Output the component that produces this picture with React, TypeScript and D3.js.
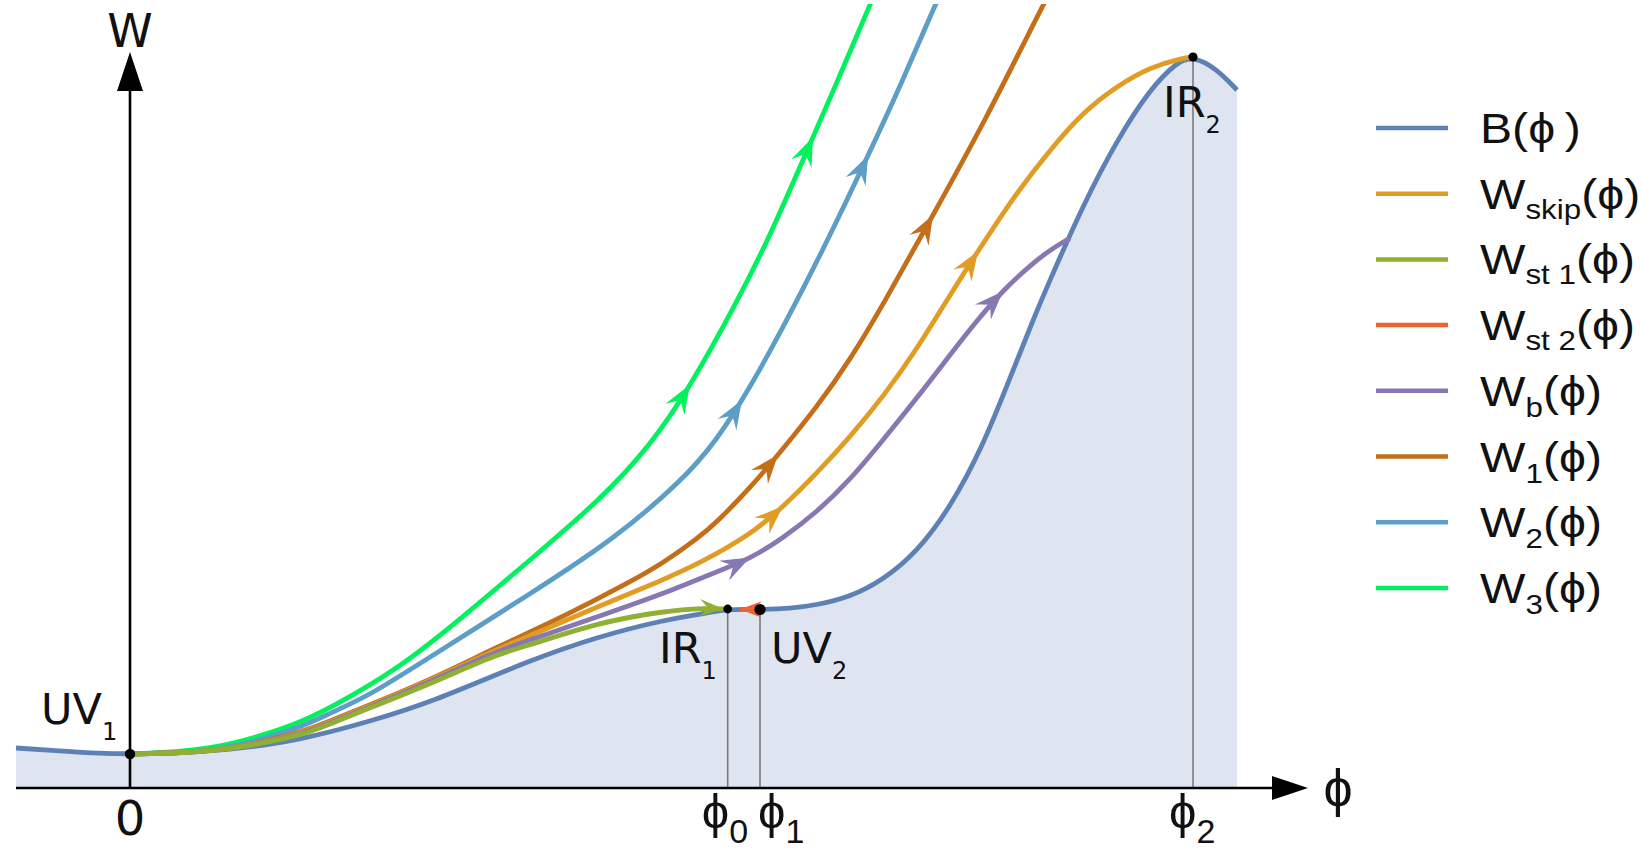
import React, { useEffect, useRef } from "react";
import * as d3 from "d3";

type Pt = [number, number];

// ---- data (φ, W) ----
const B_CURVE: Pt[] = [
  [-1.14, 0.40], [-0.70, 0.37], [-0.30, 0.345], [0, 0.34], [0.5, 0.35], [1.03, 0.39],
  [1.37, 0.43], [1.70, 0.49], [2.00, 0.56], [2.37, 0.66], [3.00, 0.85], [4.00, 1.28],
  [4.67, 1.51], [5.33, 1.68], [5.83, 1.76], [5.977, 1.785], [6.15, 1.787], [6.30, 1.785],
  [6.60, 1.795], [6.87, 1.83], [7.20, 1.91], [7.53, 2.08], [7.87, 2.36], [8.20, 2.80],
  [8.53, 3.42], [8.80, 4.10], [9.03, 4.68], [9.20, 5.08], [9.53, 5.83], [9.87, 6.48],
  [10.20, 6.99], [10.47, 7.26], [10.63, 7.32], [10.87, 7.19], [11.07, 6.98],
];
const W_SKIP: Pt[] = [
  [0, 0.34], [0.5, 0.35], [1.03, 0.39], [1.70, 0.54], [2.00, 0.66], [2.37, 0.81],
  [3.00, 1.07], [3.67, 1.39], [4.00, 1.52], [4.67, 1.81], [5.33, 2.08], [5.70, 2.25],
  [6.20, 2.53], [6.53, 2.81], [6.87, 3.15], [7.20, 3.51], [7.53, 3.91], [7.87, 4.39],
  [8.20, 4.93], [8.48, 5.37], [8.87, 5.96], [9.20, 6.38], [9.53, 6.76], [9.87, 7.02],
  [10.20, 7.21], [10.53, 7.30], [10.63, 7.31],
];
const W_ST1: Pt[] = [
  [0, 0.34], [0.5, 0.35], [1.03, 0.39], [1.70, 0.52], [2.00, 0.64], [2.37, 0.79],
  [3.00, 1.04], [3.67, 1.34], [4.00, 1.43], [4.67, 1.65], [5.33, 1.77], [5.77, 1.80],
  [5.977, 1.79],
];
const W_ST2: Pt[] = [[6.30, 1.785], [6.10, 1.787]];
const W_B: Pt[] = [
  [0, 0.34], [0.5, 0.35], [1.03, 0.39], [1.70, 0.53], [2.00, 0.65], [2.37, 0.80],
  [3.00, 1.06], [3.67, 1.37], [4.00, 1.48], [4.67, 1.71], [5.33, 1.94], [5.83, 2.15],
  [6.20, 2.29], [6.53, 2.50], [6.87, 2.76], [7.20, 3.08], [7.53, 3.48], [7.87, 3.90],
  [8.20, 4.33], [8.45, 4.65], [8.73, 4.98], [9.03, 5.25], [9.20, 5.38], [9.40, 5.50],
];
const W_1: Pt[] = [
  [0, 0.34], [0.5, 0.35], [1.03, 0.39], [1.70, 0.55], [2.00, 0.67], [2.37, 0.82],
  [3.00, 1.08], [3.67, 1.41], [4.33, 1.71], [5.00, 2.06], [5.33, 2.25], [5.67, 2.49],
  [5.87, 2.66], [6.20, 3.00], [6.48, 3.33], [6.87, 3.81], [7.20, 4.28], [7.53, 4.83],
  [8.03, 5.73], [8.53, 6.63], [9.13, 7.83], [9.16, 7.88],
];
const W_2: Pt[] = [
  [0, 0.34], [0.5, 0.35], [1.03, 0.40], [1.70, 0.60], [2.00, 0.75], [2.37, 0.91],
  [3.00, 1.31], [4.00, 1.94], [4.83, 2.48], [5.53, 3.08], [5.87, 3.48], [6.20, 4.00],
  [6.57, 4.68], [6.93, 5.38], [7.38, 6.32], [7.73, 7.08], [8.05, 7.83], [8.08, 7.88],
];
const W_3: Pt[] = [
  [0, 0.34], [0.5, 0.36], [1.03, 0.43], [1.70, 0.65], [2.00, 0.80], [2.67, 1.18],
  [3.33, 1.71], [4.00, 2.28], [4.70, 2.88], [5.20, 3.42], [5.60, 4.01], [6.07, 4.86],
  [6.40, 5.52], [6.76, 6.35], [7.08, 7.08], [7.42, 7.88],
];

// arrowhead positions (φ of the tip)
const ARROWS_SKIP = [6.53, 8.48];
const ARROWS_ST1 = [5.93];
const ARROWS_ST2 = [6.06];
const ARROWS_B = [6.20, 8.73];
const ARROWS_1 = [6.48, 8.03];
const ARROWS_2 = [6.12, 7.38];
const ARROWS_3 = [5.60, 6.83];

// fixed points
const POINT_NAMES = ["UV1", "IR1", "UV2", "IR2"];
const POINT_PHI = [0, 5.977, 6.30, 10.63];
const POINT_W = [0.34, 1.79, 1.785, 7.31];

// axis tick labels
const TICK_PHI = [0, 5.977, 6.30, 10.63];
const TICK_MAIN = ["0", "ϕ", "ϕ", "ϕ"];
const TICK_SUB = ["", "0", "1", "2"];

// legend
const LEGEND_MAIN = ["B(ϕ\u2009)", "W", "W", "W", "W", "W", "W", "W"];
const LEGEND_SUB = ["", "skip", "st 1", "st 2", "b", "1", "2", "3"];
const COLORS = ["#5E81B5", "#E19C24", "#8FB032", "#EB6235", "#8778B3", "#C56E1A", "#5D9EC7", "#02F25E"];

const SERIES: { data: Pt[]; arrows: number[]; color: string; curve: boolean; head: number }[] = [
  { data: W_3, arrows: ARROWS_3, color: COLORS[7], curve: true, head: 1 },
  { data: W_2, arrows: ARROWS_2, color: COLORS[6], curve: true, head: 1 },
  { data: W_1, arrows: ARROWS_1, color: COLORS[5], curve: true, head: 1 },
  { data: W_SKIP, arrows: ARROWS_SKIP, color: COLORS[1], curve: true, head: 1 },
  { data: W_B, arrows: ARROWS_B, color: COLORS[4], curve: true, head: 1 },
  { data: W_ST1, arrows: ARROWS_ST1, color: COLORS[2], curve: true, head: 0.8 },
  { data: W_ST2, arrows: ARROWS_ST2, color: COLORS[3], curve: false, head: 0.75 },
];

const W = 1641;
const H = 850;
const LATIN = "'Liberation Sans', Arial, 'DejaVu Sans', sans-serif";
const LABEL = "'DejaVu Sans', sans-serif";
const LW = 4.8;

function pointAtX(path: SVGPathElement, px: number) {
  const L = path.getTotalLength();
  const a = path.getPointAtLength(0);
  const b = path.getPointAtLength(L);
  const inc = b.x > a.x;
  let lo = 0;
  let hi = L;
  for (let i = 0; i < 50; i++) {
    const mid = (lo + hi) / 2;
    const p = path.getPointAtLength(mid);
    if ((p.x < px) === inc) lo = mid;
    else hi = mid;
  }
  const s = (lo + hi) / 2;
  const p = path.getPointAtLength(s);
  const p1 = path.getPointAtLength(Math.max(0, s - 3));
  const p2 = path.getPointAtLength(Math.min(L, s + 3));
  const ang = (Math.atan2(p2.y - p1.y, p2.x - p1.x) * 180) / Math.PI;
  return { x: p.x, y: p.y, ang };
}

export default function App() {
  const ref = useRef<SVGSVGElement>(null);

  useEffect(() => {
    document.body.style.margin = "0";
    const svg = d3.select(ref.current);
    svg.selectAll("*").remove();

    const x = d3.scaleLinear().domain([-1.14, 11.78]).range([16, 1308]);
    const y = d3.scaleLinear().domain([0, 7.88]).range([788, 0]);
    const curve = d3.curveBasis;

    const defs = svg.append("defs");
    defs.append("clipPath").attr("id", "plotclip")
      .append("rect").attr("x", 0).attr("y", 4).attr("width", W).attr("height", H);

    // filled region under B
    const area = d3.area<Pt>().x((d) => x(d[0])).y0(y(0)).y1((d) => y(d[1])).curve(curve);
    svg.append("path").datum(B_CURVE).attr("d", area).attr("fill", "#DFE5F0");

    // vertical guide lines
    svg.selectAll("line.guide").data(POINT_PHI.slice(1)).enter().append("line")
      .attr("x1", (d) => x(d)).attr("x2", (d) => x(d))
      .attr("y1", y(0)).attr("y2", (_d, i) => y(POINT_W[i + 1]))
      .attr("stroke", "#7a7a7a").attr("stroke-width", 1.6);

    // axes
    const x0 = x(0);
    const yAxisPx = y(0);
    svg.append("line").attr("x1", 16).attr("x2", 1275).attr("y1", yAxisPx).attr("y2", yAxisPx)
      .attr("stroke", "#000").attr("stroke-width", 2.6);
    svg.append("path").attr("d", `M1272,${yAxisPx - 12} L1308,${yAxisPx} L1272,${yAxisPx + 12} Z`).attr("fill", "#000");
    svg.append("line").attr("x1", x0).attr("x2", x0).attr("y1", yAxisPx + 1).attr("y2", 88)
      .attr("stroke", "#000").attr("stroke-width", 2.6);
    svg.append("path").attr("d", `M${x0 - 13},91 L${x0},52 L${x0 + 13},91 Z`).attr("fill", "#000");

    const line = d3.line<Pt>().x((d) => x(d[0])).y((d) => y(d[1])).curve(curve);
    const lineStraight = d3.line<Pt>().x((d) => x(d[0])).y((d) => y(d[1]));

    // B curve
    const g = svg.append("g").attr("clip-path", "url(#plotclip)");
    g.append("path").datum(B_CURVE).attr("d", line).attr("fill", "none")
      .attr("stroke", COLORS[0]).attr("stroke-width", LW).attr("stroke-linejoin", "round");

    const arrowHead = "M0,0 L-29,-11 Q-21,-3 -19,0 Q-21,3 -29,11 Z";

    SERIES.forEach((s) => {
      const p = g.append("path").datum(s.data).attr("d", s.curve ? line : lineStraight)
        .attr("fill", "none").attr("stroke", s.color).attr("stroke-width", LW)
        .attr("stroke-linejoin", "round");
      const node = p.node() as SVGPathElement;
      s.arrows.forEach((a) => {
        const pt = pointAtX(node, x(a));
        g.append("path").attr("d", arrowHead)
          .attr("transform", `translate(${pt.x},${pt.y}) rotate(${pt.ang}) scale(${s.head})`)
          .attr("fill", s.color);
      });
    });

    // fixed points
    const radii = [5.2, 4.4, 5.6, 4.6];
    svg.selectAll("circle.fp").data(POINT_NAMES).enter().append("circle")
      .attr("cx", (_d, i) => x(POINT_PHI[i])).attr("cy", (_d, i) => y(POINT_W[i]))
      .attr("r", (_d, i) => radii[i]).attr("fill", "#000");

    // point labels
    const labelPos: [number, number, string, string][] = [
      [41, 724, "UV", "1"],
      [659, 663, "IR", "1"],
      [771, 663, "UV", "2"],
      [1163, 117, "IR", "2"],
    ];
    labelPos.forEach(([lx, ly, main, sub]) => {
      const t = svg.append("text").attr("x", lx).attr("y", ly)
        .attr("font-family", LABEL).attr("font-size", 43).attr("fill", "#111");
      t.append("tspan").text(main);
      t.append("tspan").attr("font-size", 24).attr("dy", 16).text(sub);
    });

    // axis labels
    svg.append("text").attr("x", x0).attr("y", 47).attr("text-anchor", "middle")
      .attr("font-family", LABEL).attr("font-size", 46).attr("fill", "#111").text("W");
    svg.append("text").attr("x", 1338).attr("y", 806).attr("text-anchor", "middle")
      .attr("font-family", LATIN).attr("font-size", 52).attr("fill", "#111").text("ϕ");

    // tick labels
    const tickStart = [0, -26, -2, -24];
    TICK_PHI.forEach((v, i) => {
      if (TICK_SUB[i] === "") {
        svg.append("text").attr("x", x(v)).attr("y", 835).attr("text-anchor", "middle")
          .attr("font-family", LABEL).attr("font-size", 48).attr("fill", "#111").text(TICK_MAIN[i]);
      } else {
        const t = svg.append("text").attr("x", x(v) + tickStart[i]).attr("y", 828)
          .attr("font-family", LATIN).attr("font-size", 49).attr("fill", "#111");
        t.append("tspan").text(TICK_MAIN[i]);
        t.append("tspan").attr("font-size", 34).attr("dy", 15).text(TICK_SUB[i]);
      }
    });

    // legend
    const lg = svg.append("g");
    LEGEND_MAIN.forEach((m, i) => {
      const ry = 128 + i * 65.7;
      lg.append("line").attr("x1", 1376).attr("x2", 1448).attr("y1", ry).attr("y2", ry)
        .attr("stroke", COLORS[i]).attr("stroke-width", 4.5);
      const t = lg.append("text").attr("x", 0).attr("y", 0)
        .attr("transform", `translate(1480,${ry + 15}) scale(1.12,1)`)
        .attr("font-family", LATIN).attr("font-size", 43).attr("fill", "#111");
      if (LEGEND_SUB[i] === "") {
        t.append("tspan").text(m);
      } else {
        const dy = LEGEND_SUB[i].length === 1 ? 11 : 10;
        t.append("tspan").text(m);
        t.append("tspan").attr("font-size", 28).attr("dy", dy).text(LEGEND_SUB[i]);
        t.append("tspan").attr("dy", -dy).text("(ϕ)");
      }
    });
  }, []);

  return (
    <svg
      ref={ref}
      width={W}
      height={H}
      style={{ display: "block", position: "absolute", left: 0, top: 0, background: "#fff" }}
    />
  );
}
